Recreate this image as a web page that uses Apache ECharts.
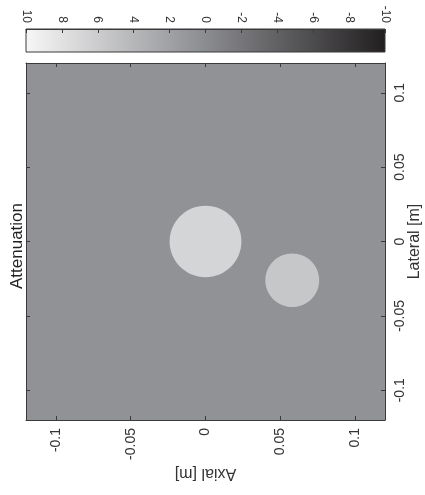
<!DOCTYPE html>
<html>
<head>
<meta charset="utf-8">
<script src="https://cdn.jsdelivr.net/npm/echarts@6/dist/echarts.min.js"></script>
<style>
  html, body { margin: 0; padding: 0; background: #ffffff; }
  #chart { width: 425px; height: 495px; }
</style>
</head>
<body>
<div id="chart"></div>
<script>
// Colour bar scale (attenuation units) and its tick labels
const colorbarTicks = [10, 8, 6, 4, 2, 0, -2, -4, -6, -8, -10];
const colorbarRange = [-10, 10];
// Gray colormap: value -> colour, from the low end to the high end
const cmapValues = [-10, 0, 10];
const cmapColors = ['#221f20', '#8b8c90', '#f7f7f7'];

// Spatial axes (metres)
const axialRange = [-0.12, 0.12];
const lateralRange = [-0.12, 0.12];
const axialTicks = [-0.1, -0.05, 0, 0.05, 0.1];
const lateralTicks = [-0.1, -0.05, 0, 0.05, 0.1];

// Phantom: homogeneous medium with two circular inclusions
const backgroundValue = 0.6;
const inclusionAxial = [0.0, 0.058];
const inclusionLateral = [0.0, -0.026];
const inclusionRadius = [0.024, 0.018];
const inclusionValue = [6.8, 5.5];

const FONT = '"Liberation Sans", Arial, Helvetica, sans-serif';
const AXIS_COLOR = '#3a3a3a';
const TEXT_COLOR = '#333333';

const backgroundData = [[axialRange[0], axialRange[1], lateralRange[0], lateralRange[1], backgroundValue]];
const inclusionData = inclusionAxial.map((a, i) => [a, inclusionLateral[i], inclusionRadius[i], inclusionValue[i]]);

const chart = echarts.init(document.getElementById('chart'), null, { renderer: 'canvas' });

function tickAxis(extra) {
  return Object.assign({
    type: 'value',
    z: 10,
    splitLine: { show: false },
    axisLine: { show: true, onZero: false, lineStyle: { color: AXIS_COLOR, width: 1 } },
    axisTick: { show: true, inside: true, length: 4, lineStyle: { color: AXIS_COLOR, width: 1 } },
    axisLabel: { show: false }
  }, extra);
}

// Colour bar gradient stops, positioned along the bar from left (high) to right (low)
const span = colorbarRange[1] - colorbarRange[0];
const gradientStops = cmapValues.map((v, i) => ({
  offset: (colorbarRange[1] - v) / span,
  color: cmapColors[i]
})).sort((a, b) => a.offset - b.offset);

const option = {
  animation: false,
  backgroundColor: '#ffffff',
  grid: [
    { left: 26, top: 29, width: 359, height: 23, outerBoundsMode: 'none', containLabel: false },
    { left: 26, top: 63, width: 359, height: 357, outerBoundsMode: 'none', containLabel: false }
  ],
  xAxis: [
    // colour bar scale
    tickAxis({
      gridIndex: 0, position: 'top', inverse: true,
      min: colorbarRange[0], max: colorbarRange[1],
      axisTick: { show: true, inside: true, length: 4, lineStyle: { color: AXIS_COLOR }, customValues: colorbarTicks },
      axisLabel: {
        show: true, rotate: 90, margin: 6, fontSize: 12, fontFamily: FONT, color: TEXT_COLOR,
        customValues: colorbarTicks, formatter: v => String(v)
      }
    }),
    // axial (bottom)
    tickAxis({
      gridIndex: 1, position: 'bottom', min: axialRange[0], max: axialRange[1],
      axisTick: { show: true, inside: true, length: 4, lineStyle: { color: AXIS_COLOR }, customValues: axialTicks },
      axisLabel: {
        show: true, rotate: 90, margin: 8, fontSize: 14, fontFamily: FONT, color: TEXT_COLOR,
        customValues: axialTicks, formatter: v => String(v)
      },
      name: 'Axial [m]', nameLocation: 'middle', nameGap: 45, nameRotate: 180, nameMoveOverlap: false,
      nameTextStyle: { fontSize: 16, fontFamily: FONT, color: TEXT_COLOR }
    }),
    // axial (top mirror ticks)
    tickAxis({
      gridIndex: 1, position: 'top', min: axialRange[0], max: axialRange[1],
      axisTick: { show: true, inside: true, length: 4, lineStyle: { color: AXIS_COLOR }, customValues: axialTicks }
    })
  ],
  yAxis: [
    // colour bar cross axis
    tickAxis({
      gridIndex: 0, min: 0, max: 1,
      axisLine: { show: false }, axisTick: { show: false }
    }),
    // lateral (right)
    tickAxis({
      gridIndex: 1, position: 'right', min: lateralRange[0], max: lateralRange[1],
      axisTick: { show: true, inside: true, length: 4, lineStyle: { color: AXIS_COLOR }, customValues: lateralTicks },
      axisLabel: {
        show: true, rotate: 90, margin: 8, fontSize: 14, fontFamily: FONT, color: TEXT_COLOR,
        customValues: lateralTicks, formatter: v => String(v)
      },
      name: 'Lateral [m]', nameLocation: 'middle', nameGap: 22, nameRotate: 90, nameMoveOverlap: false,
      nameTextStyle: { fontSize: 16, fontFamily: FONT, color: TEXT_COLOR }
    }),
    // lateral (left mirror ticks)
    tickAxis({
      gridIndex: 1, position: 'left', min: lateralRange[0], max: lateralRange[1],
      axisTick: { show: true, inside: true, length: 4, lineStyle: { color: AXIS_COLOR }, customValues: lateralTicks }
    })
  ],
  visualMap: [
    {
      show: false, type: 'continuous', seriesIndex: 1, dimension: 4,
      min: colorbarRange[0], max: colorbarRange[1], inRange: { color: cmapColors }
    },
    {
      show: false, type: 'continuous', seriesIndex: 2, dimension: 3,
      min: colorbarRange[0], max: colorbarRange[1], inRange: { color: cmapColors }
    }
  ],
  graphic: [
    {
      type: 'text',
      rotation: Math.PI / 2,
      x: 17, y: 246,
      style: {
        text: 'Attenuation', fontSize: 17, fontFamily: FONT, fill: '#222222',
        align: 'center', verticalAlign: 'middle'
      }
    }
  ],
  series: [
    // colour bar
    {
      type: 'custom', xAxisIndex: 0, yAxisIndex: 0, silent: true,
      data: [[colorbarRange[1], colorbarRange[0]]],
      renderItem: function (params, api) {
        const p0 = api.coord([api.value(0), 1]);
        const p1 = api.coord([api.value(1), 0]);
        return {
          type: 'rect',
          shape: { x: p0[0], y: p0[1], width: p1[0] - p0[0], height: p1[1] - p0[1] },
          style: {
            fill: new echarts.graphic.LinearGradient(0, 0, 1, 0, gradientStops),
            stroke: AXIS_COLOR, lineWidth: 1
          }
        };
      }
    },
    // homogeneous background medium
    {
      type: 'custom', xAxisIndex: 1, yAxisIndex: 1, silent: true,
      data: backgroundData,
      renderItem: function (params, api) {
        const p0 = api.coord([api.value(0), api.value(3)]);
        const p1 = api.coord([api.value(1), api.value(2)]);
        return {
          type: 'rect',
          shape: { x: p0[0], y: p0[1], width: p1[0] - p0[0], height: p1[1] - p0[1] },
          style: { fill: api.visual('color') }
        };
      }
    },
    // circular inclusions
    {
      type: 'custom', xAxisIndex: 1, yAxisIndex: 1, silent: true,
      data: inclusionData,
      renderItem: function (params, api) {
        const c = api.coord([api.value(0), api.value(1)]);
        const r = api.value(2);
        const rx = api.size([r, 0])[0];
        const ry = api.size([0, r])[1];
        return {
          type: 'ellipse',
          shape: { cx: c[0], cy: c[1], rx: rx, ry: ry },
          style: { fill: api.visual('color') }
        };
      }
    }
  ]
};

chart.setOption(option);
</script>
</body>
</html>
